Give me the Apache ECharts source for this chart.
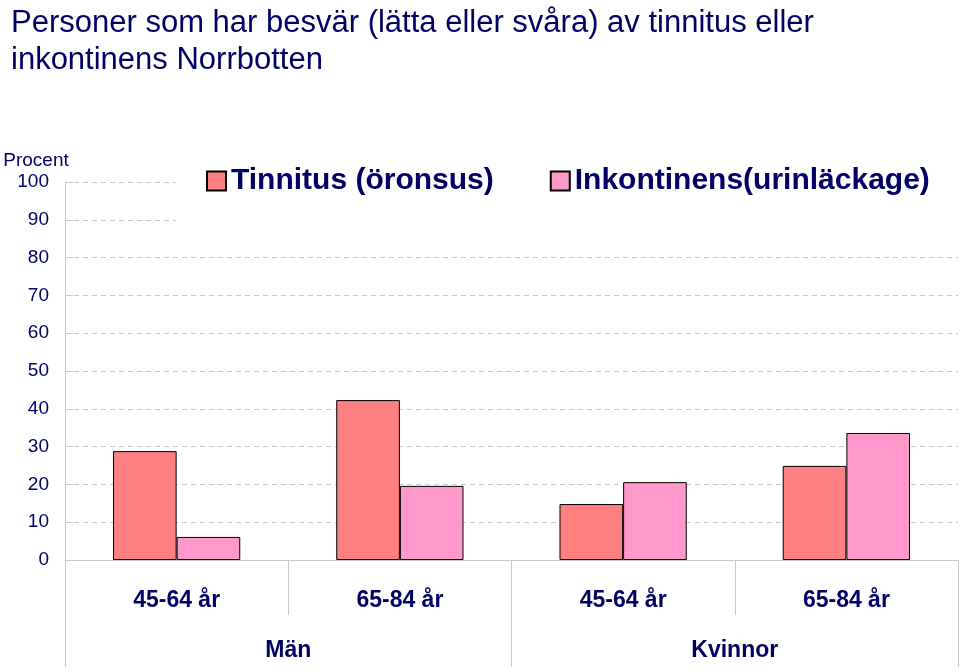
<!DOCTYPE html>
<html>
<head>
<meta charset="utf-8">
<script src="https://cdn.jsdelivr.net/npm/echarts@6/dist/echarts.min.js"></script>
<style>
  html, body { margin: 0; padding: 0; background: #fff; }
  #chart { width: 960px; height: 671px; }
</style>
</head>
<body>
<div id="chart"></div>
<script>
// data
var ageGroups = ['45-64 år', '65-84 år', '45-64 år', '65-84 år'];
var sexGroups = ['Män', 'Kvinnor'];
var tinnitus = [28.8, 42.3, 14.8, 24.9];
var inkontinens = [6.1, 19.6, 20.6, 33.6];
var yTicks = [0, 10, 20, 30, 40, 50, 60, 70, 80, 90, 100];

var navy = '#000066';
var font = 'Liberation Sans, Arial, sans-serif';

var chart = echarts.init(document.getElementById('chart'));
chart.setOption({
  animation: false,
  title: {
    text: 'Personer som har besvär (lätta eller svåra) av tinnitus eller\ninkontinens Norrbotten',
    left: 6,
    top: 0,
    textStyle: { color: navy, fontSize: 31, fontWeight: 'normal', fontFamily: font, lineHeight: 37 }
  },
  legend: {
    data: ['Tinnitus (öronsus)', 'Inkontinens(urinläckage)'],
    left: 176,
    top: 160,
    icon: 'rect',
    itemWidth: 19,
    itemHeight: 19,
    itemGap: 56,
    backgroundColor: '#fff',
    padding: [6, 30, 30, 30],
    textStyle: { color: navy, fontSize: 30, fontWeight: 'bold', fontFamily: font }
  },
  grid: { left: 65, right: 2, top: 182, bottom: 111 },
  xAxis: [{
    type: 'category',
    data: ageGroups,
    position: 'bottom',
    axisLine: { lineStyle: { color: '#c8c8c8' } },
    axisTick: { show: true, length: 55, lineStyle: { color: '#c8c8c8' } },
    axisLabel: { color: navy, fontSize: 23, fontWeight: 'bold', fontFamily: font, margin: 29 }
  }, {
    type: 'category',
    data: sexGroups,
    position: 'bottom',
    axisLine: { show: false },
    axisTick: { show: true, length: 107, lineStyle: { color: '#c8c8c8' } },
    axisLabel: { color: navy, fontSize: 23, fontWeight: 'bold', fontFamily: font, margin: 79 }
  }],
  yAxis: {
    type: 'value',
    min: 0,
    max: 100,
    interval: 10,
    name: 'Procent',
    nameGap: 12,
    nameTextStyle: { color: navy, fontSize: 19, fontFamily: font, align: 'center', padding: [0, 0, 0, -58] },
    axisLine: { show: true, lineStyle: { color: '#c8c8c8' } },
    axisTick: { show: true, length: -8, inside: false, lineStyle: { color: '#c8c8c8' } },
    axisLabel: {
      color: navy, fontSize: 19, fontFamily: font, margin: 16,
      formatter: function (v) { return yTicks.indexOf(v) >= 0 ? String(v) : ''; }
    },
    splitLine: { lineStyle: { color: '#c8c8c8', type: [5, 4] } }
  },
  series: [{
    name: 'Tinnitus (öronsus)',
    type: 'bar',
    data: tinnitus,
    barGap: '0%',
    barCategoryGap: '43%',
    itemStyle: { color: '#ff8080', borderColor: '#000', borderWidth: 1 }
  }, {
    name: 'Inkontinens(urinläckage)',
    type: 'bar',
    data: inkontinens,
    itemStyle: { color: '#ff99cc', borderColor: '#000', borderWidth: 1 }
  }]
});
</script>
</body>
</html>
